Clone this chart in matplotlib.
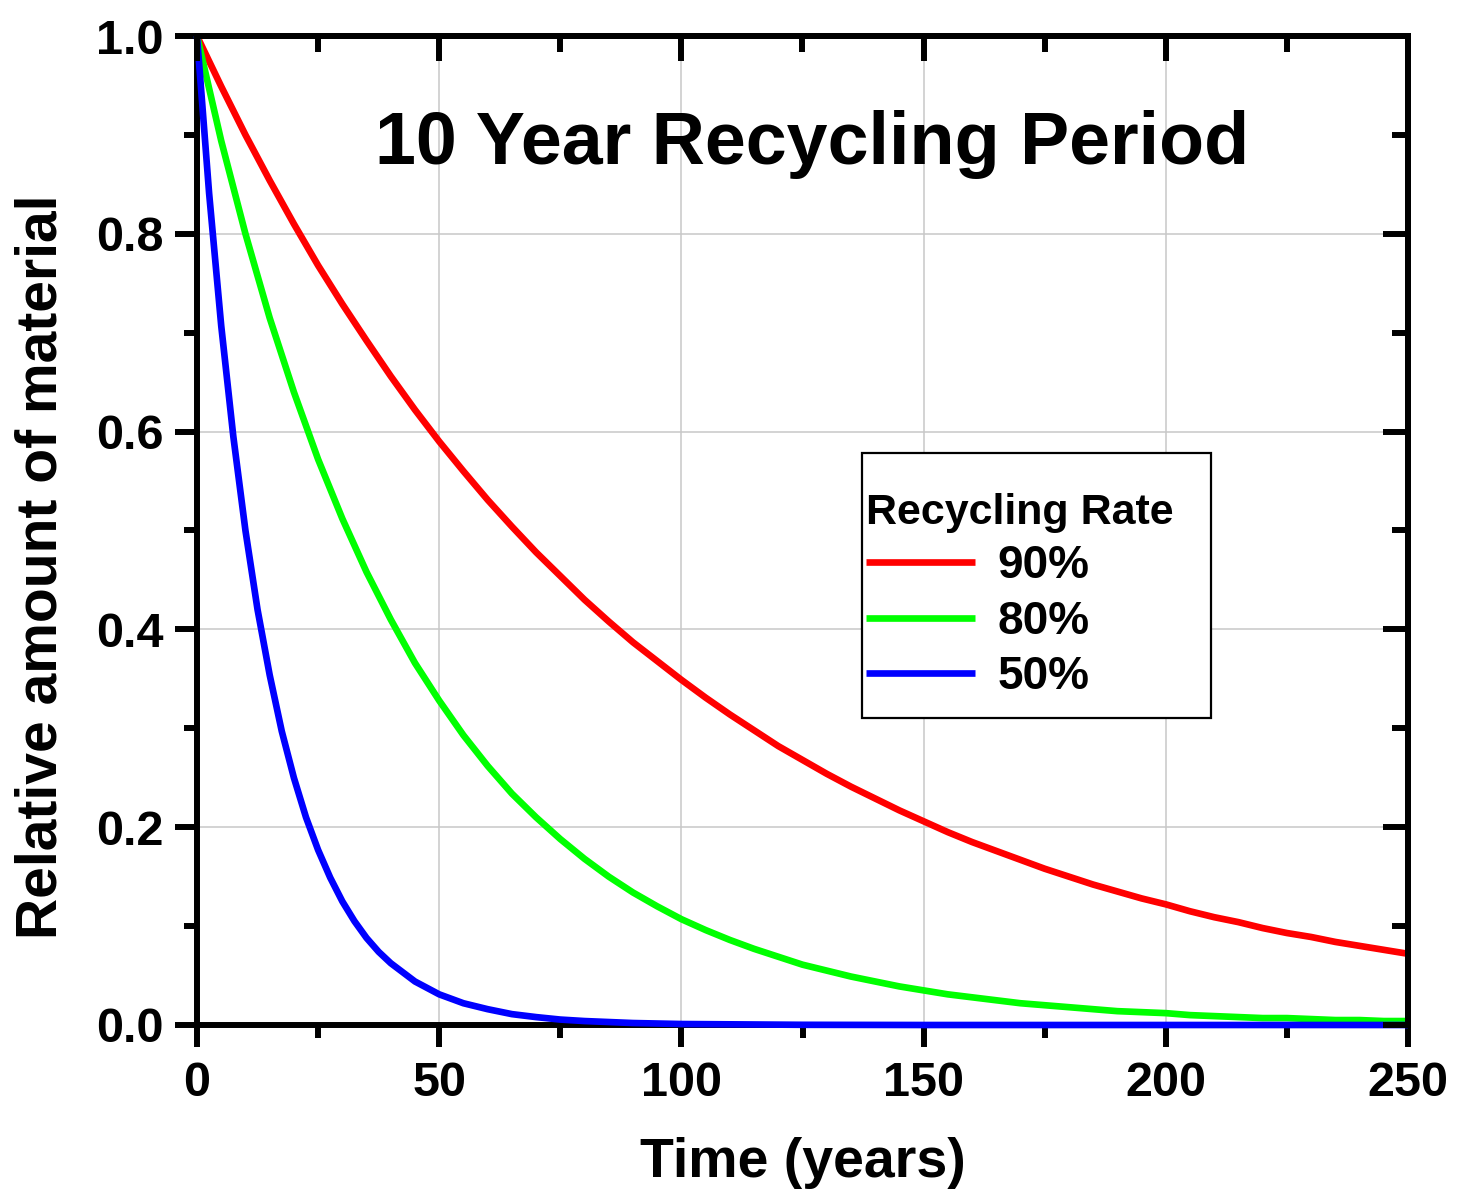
import matplotlib
matplotlib.use("Agg")
import matplotlib.pyplot as plt
from matplotlib.ticker import MultipleLocator, FormatStrFormatter
from matplotlib.patches import Rectangle

plt.rcParams['font.family'] = ['Liberation Sans', 'DejaVu Sans']
plt.rcParams['font.weight'] = 'bold'

# ---- data ----
years_90 = [0, 5, 10, 15, 20, 25, 30, 35, 40, 45, 50, 55, 60, 65, 70, 75, 80, 85, 90, 95,
            100, 105, 110, 115, 120, 125, 130, 135, 140, 145, 150, 155, 160, 165, 170, 175,
            180, 185, 190, 195, 200, 205, 210, 215, 220, 225, 230, 235, 240, 245, 250]
rate_90 = [1.000, 0.949, 0.900, 0.854, 0.810, 0.768, 0.729, 0.692, 0.656, 0.622, 0.590,
           0.560, 0.531, 0.504, 0.478, 0.454, 0.430, 0.408, 0.387, 0.368, 0.349, 0.331,
           0.314, 0.298, 0.282, 0.268, 0.254, 0.241, 0.229, 0.217, 0.206, 0.195, 0.185,
           0.176, 0.167, 0.158, 0.150, 0.142, 0.135, 0.128, 0.122, 0.115, 0.109, 0.104,
           0.098, 0.093, 0.089, 0.084, 0.080, 0.076, 0.072]

years_80 = years_90
rate_80 = [1.000, 0.894, 0.800, 0.715, 0.640, 0.572, 0.512, 0.458, 0.410, 0.366, 0.328,
           0.293, 0.262, 0.234, 0.210, 0.188, 0.168, 0.150, 0.134, 0.120, 0.107, 0.096,
           0.086, 0.077, 0.069, 0.061, 0.055, 0.049, 0.044, 0.039, 0.035, 0.031, 0.028,
           0.025, 0.022, 0.020, 0.018, 0.016, 0.014, 0.013, 0.012, 0.010, 0.009, 0.008,
           0.007, 0.007, 0.006, 0.005, 0.005, 0.004, 0.004]

years_50 = [0, 2.5, 5, 7.5, 10, 12.5, 15, 17.5, 20, 22.5, 25, 27.5, 30, 32.5, 35, 37.5,
            40, 45, 50, 55, 60, 65, 70, 75, 80, 90, 100, 125, 150, 200, 250]
rate_50 = [1.000, 0.841, 0.707, 0.595, 0.500, 0.420, 0.354, 0.297, 0.250, 0.210, 0.177,
           0.149, 0.125, 0.105, 0.088, 0.074, 0.0625, 0.044, 0.031, 0.022, 0.016, 0.011,
           0.008, 0.0055, 0.004, 0.002, 0.001, 0.0002, 0.0, 0.0, 0.0]

series_labels = ['90%', '80%', '50%']
series_colors = ['#ff0000', '#00ff00', '#0000ff']
x_ticks = [0, 50, 100, 150, 200, 250]
y_ticks = [0.0, 0.2, 0.4, 0.6, 0.8, 1.0]

W, H, DPI = 1458, 1199, 100
fig = plt.figure(figsize=(W / DPI, H / DPI), dpi=DPI)
ax = fig.add_axes([197 / W, 1 - 1025 / H, (1408 - 197) / W, (1025 - 36) / H])

LW = 4.8
for xs, ys, lab, col in zip([years_90, years_80, years_50], [rate_90, rate_80, rate_50],
                            series_labels, series_colors):
    ax.plot(xs, ys, color=col, lw=LW, label=lab, zorder=3, clip_on=False,
            solid_capstyle='butt')

ax.set_xlim(0, 250)
ax.set_ylim(0, 1.0)
ax.set_xticks(x_ticks)
ax.set_yticks(y_ticks)
ax.xaxis.set_minor_locator(MultipleLocator(25))
ax.yaxis.set_minor_locator(MultipleLocator(0.1))
ax.yaxis.set_major_formatter(FormatStrFormatter('%.1f'))
ax.grid(True, which='major', color='#c8c8c8', lw=1.1, zorder=0)
ax.set_axisbelow(True)

for s in ax.spines.values():
    s.set_linewidth(4.3)
ax.tick_params(which='major', direction='out', length=16, width=4.3, labelsize=35,
               top=False, right=False)
ax.tick_params(axis='y', which='major', pad=8)
ax.tick_params(axis='x', which='major', pad=10)
ax.tick_params(which='minor', direction='out', length=9.5, width=4.3, top=False, right=False)

sx = ax.secondary_xaxis('top')
sx.set_zorder(10)
sx.set_xticks(x_ticks)
sx.xaxis.set_minor_locator(MultipleLocator(25))
sx.tick_params(which='major', direction='in', length=18, width=4.3, labeltop=False)
sx.tick_params(which='minor', direction='in', length=11.5, width=4.3)
sx.spines['top'].set_linewidth(4.3)

sy = ax.secondary_yaxis('right')
sy.set_zorder(10)
sy.set_yticks(y_ticks)
sy.yaxis.set_minor_locator(MultipleLocator(0.1))
sy.tick_params(which='major', direction='in', length=18, width=4.3, labelright=False)
sy.tick_params(which='minor', direction='in', length=11.5, width=4.3)
sy.spines['right'].set_linewidth(4.3)

ax.set_xlabel('Time (years)', fontsize=40, fontweight='bold', labelpad=22)
fig.text(42 / W, 1 - 567 / H, 'Relative amount of material', fontsize=41,
         fontweight='bold', rotation=90, ha='center', va='center')

ax.text(0.508, 0.89, '10 Year Recycling Period', transform=ax.transAxes,
        fontsize=53, fontweight='bold', ha='center', va='center')

# legend frame
frame = Rectangle((862 / W, 1 - 718 / H), 349 / W, 265 / H, transform=fig.transFigure,
                  facecolor='white', edgecolor='black', lw=1.6, zorder=4, clip_on=False)
ax.add_patch(frame)
leg = ax.legend(loc='upper left', bbox_to_anchor=(866 / W, 1 - 493 / H),
                bbox_transform=fig.transFigure, frameon=False, borderpad=0,
                borderaxespad=0, title='Recycling Rate', alignment='left',
                fontsize=33, title_fontproperties={'size': 31, 'weight': 'bold'},
                handlelength=2.38, handletextpad=0.48, labelspacing=0.25)
leg.set_zorder(5)
for line in leg.get_lines():
    line.set_linewidth(LW)

fig.savefig('out.png', dpi=DPI)
